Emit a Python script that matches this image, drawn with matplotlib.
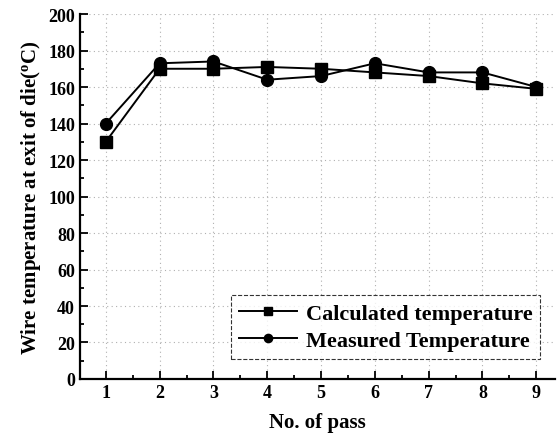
import matplotlib
matplotlib.use("Agg")
import matplotlib.pyplot as plt
from matplotlib.ticker import MultipleLocator

# values
passes = [1, 2, 3, 4, 5, 6, 7, 8, 9]
calculated = [130, 170, 170, 171, 170, 168, 166, 162, 159]
measured = [140, 173, 174, 164, 166, 173, 168, 168, 160]
y_ticks = [0, 20, 40, 60, 80, 100, 120, 140, 160, 180, 200]

plt.rcParams['font.family'] = ['Liberation Serif', 'DejaVu Serif']
plt.rcParams['font.weight'] = 'bold'
plt.rcParams['axes.labelweight'] = 'bold'
plt.rcParams['mathtext.fontset'] = 'custom'
plt.rcParams['mathtext.rm'] = 'Liberation Serif:bold'
plt.rcParams['mathtext.it'] = 'Liberation Serif:bold'

fig = plt.figure(figsize=(5.57, 4.39), dpi=100)
ax = fig.add_axes([0.1436, 0.1344, 0.853, 0.8314])

ax.plot(passes, calculated, color='black', lw=1.4, marker='s', ms=8.5,
        label='Calculated temperature')
ax.plot(passes, measured, color='black', lw=1.4, marker='o', ms=8.5,
        label='Measured Temperature')

ax.set_xlim(0.52, 9.35)
ax.set_ylim(0, 200)
ax.set_xticks(passes)
ax.set_yticks(y_ticks)
ax.xaxis.set_minor_locator(MultipleLocator(0.5))
ax.yaxis.set_minor_locator(MultipleLocator(10))
ax.tick_params(which='both', direction='in', labelsize=13, width=1.3)
ax.tick_params(which='major', length=6)
ax.tick_params(which='minor', length=3)

for s in ['top', 'right']:
    ax.spines[s].set_visible(False)
for s in ['left', 'bottom']:
    ax.spines[s].set_linewidth(1.6)

ax.grid(True, which='major', color='#b0b0b0', linestyle=(0, (1, 3)), linewidth=0.8)
ax.set_axisbelow(True)

ax.set_xlabel('No. of pass', fontsize=15, labelpad=8)
ax.set_ylabel('Wire temperature at exit of die($^{\\rm o}$C)', fontsize=15, labelpad=4)

leg = ax.legend(loc='lower right', bbox_to_anchor=(0.992, 0.025), fontsize=16,
                frameon=True, fancybox=False, handlelength=2.6, markerscale=0.7,
                borderpad=0.35, labelspacing=0.3, handletextpad=0.4)
leg.get_frame().set_edgecolor('black')
leg.get_frame().set_linewidth(0.8)
leg.get_frame().set_linestyle('--')

fig.savefig('out.png', dpi=100)
